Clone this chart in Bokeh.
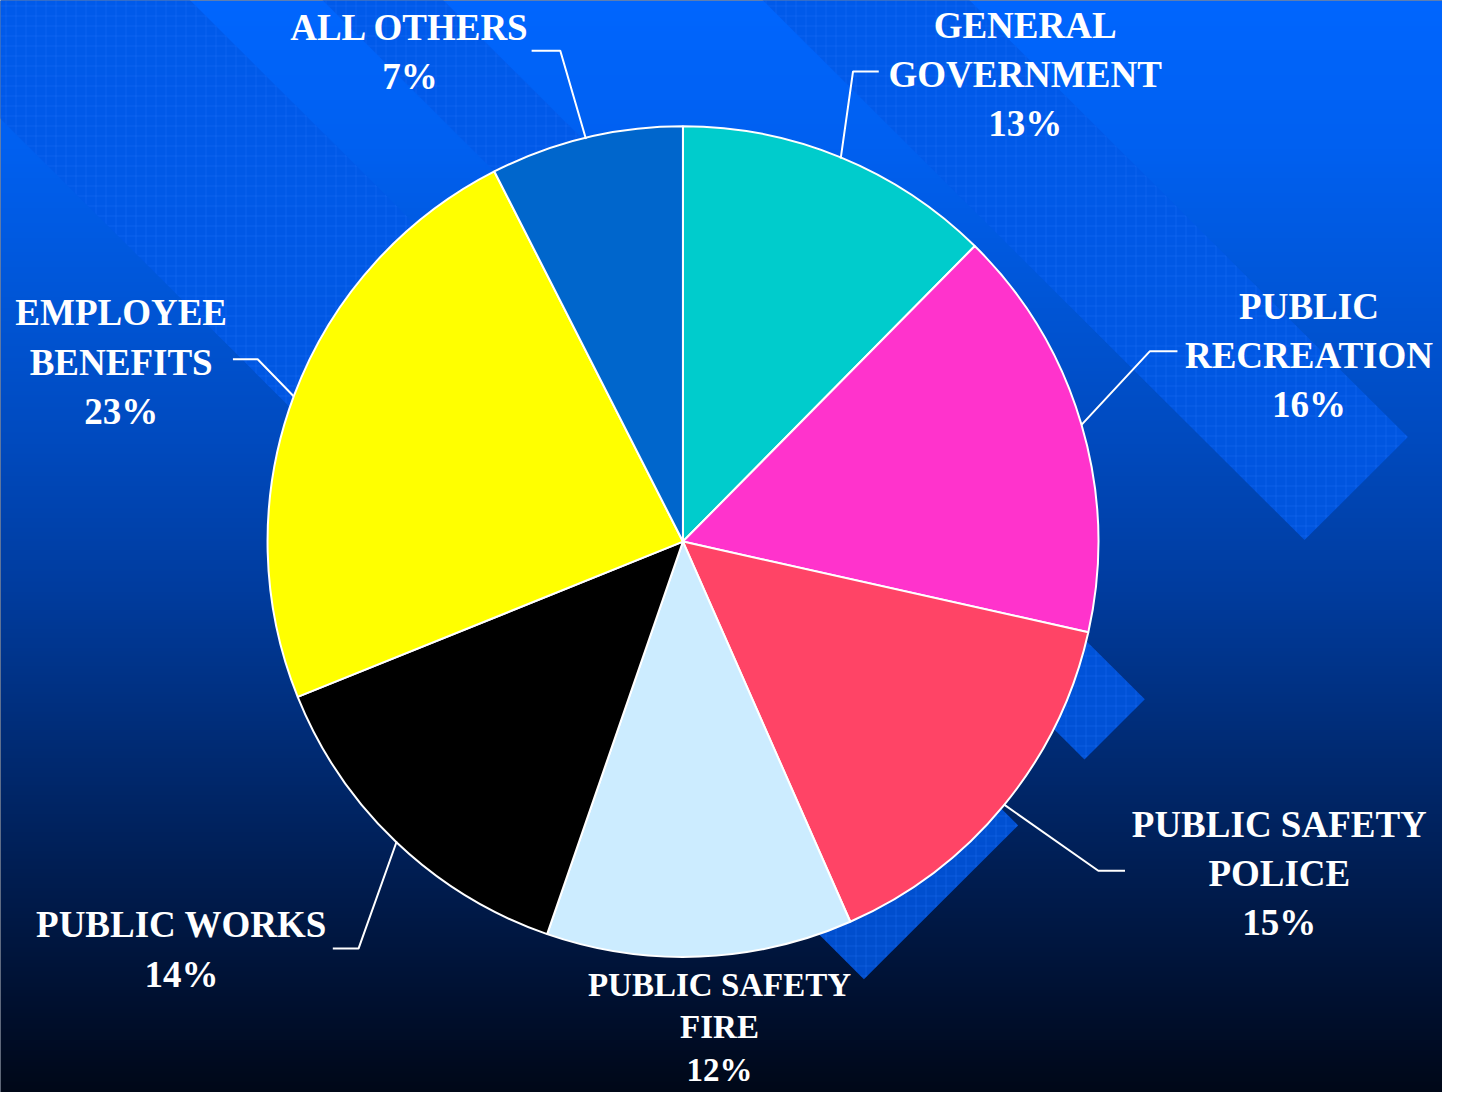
import numpy as np
from bokeh.plotting import figure
from bokeh.models import Range1d, ColumnDataSource
from bokeh.core.properties import value
from bokeh.embed import file_html
from bokeh.resources import INLINE

# ---------------- data ----------------
categories = ["GENERAL GOVERNMENT", "PUBLIC RECREATION", "PUBLIC SAFETY POLICE",
              "PUBLIC SAFETY FIRE", "PUBLIC WORKS", "EMPLOYEE BENEFITS", "ALL OTHERS"]
label_names = [["GENERAL", "GOVERNMENT"], ["PUBLIC", "RECREATION"], ["PUBLIC SAFETY", "POLICE"],
               ["PUBLIC SAFETY", "FIRE"], ["PUBLIC WORKS"], ["EMPLOYEE", "BENEFITS"], ["ALL OTHERS"]]
pct_labels = ["13%", "16%", "15%", "12%", "14%", "23%", "7%"]
shares = [12.4, 16.1, 14.9, 11.9, 13.6, 23.6, 7.5]   # slice sizes
colors = ["#00CCCC", "#FF33CC", "#FF4466", "#CCECFF", "#000000", "#FFFF00", "#0066CC"]

# ---------------- layout (reference pixel space, y downward) ----------------
W, H = 1458, 1108
CX, CY, R = 690, 549, 420
# label: centre x, first-line y, line spacing, font px
label_layout = [(1036, 25, 50, 37), (1323, 310, 50, 37), (1293, 836, 50, 37),
                (727, 999, 43, 33), (183, 938, 50, 37), (122, 317, 50, 37), (414, 27, 50, 37)]
# leader: elbow, end (None = no leader)
leaders = [((862, 72), (888, 72)), ((1162, 356), (1190, 356)), ((1110, 883), (1137, 883)),
           None, ((362, 962), (336, 962)), ((260, 364), (235, 364)), ((566, 51), (537, 51))]
# decorative diagonal bands: x-y between c1 and c2, ending at x+y = S
bands = [(-120, 192), (326, 448), (771, 980)]
S_END = 1866

def Y(py):
    return H - py

p = figure(width=1442, height=1092, x_range=Range1d(0, W), y_range=Range1d(0, H),
           output_backend="svg", toolbar_location=None, min_border=0)
p.axis.visible = False
p.grid.visible = False
p.outline_line_color = None
p.background_fill_color = "#001030"
p.border_fill_color = "#001030"

# gradient background
stops_py = [0, 150, 300, 450, 600, 750, 900, 1000, 1108]
stops_r = [0, 0, 0, 0, 0, 0, 0, 0, 0]
stops_g = [102, 96, 86, 74, 60, 44, 28, 18, 8]
stops_b = [255, 240, 215, 190, 158, 118, 78, 52, 24]
img = np.empty((H, 1), dtype=np.uint32)
view = img.view(dtype=np.uint8).reshape((H, 1, 4))
rows = np.arange(H)
py = H - 1 - rows
view[:, 0, 0] = np.interp(py, stops_py, stops_r).astype(np.uint8)
view[:, 0, 1] = np.interp(py, stops_py, stops_g).astype(np.uint8)
view[:, 0, 2] = np.interp(py, stops_py, stops_b).astype(np.uint8)
view[:, 0, 3] = 255
p.image_rgba(image=[img], x=0, y=0, dw=W, dh=H)

# bands
T = -600
bxs, bys = [], []
for c1, c2 in bands:
    pts = [((S_END + c1) / 2, (S_END - c1) / 2), ((S_END + c2) / 2, (S_END - c2) / 2),
           ((T + c2) / 2, (T - c2) / 2), ((T + c1) / 2, (T - c1) / 2)]
    bxs.append([q[0] for q in pts])
    bys.append([Y(q[1]) for q in pts])
p.patches(bxs, bys, fill_color="#0058E6", fill_alpha=0.85, line_color=None,
          hatch_pattern="+", hatch_color="#2A7BFF", hatch_alpha=0.28, hatch_scale=10, hatch_weight=1)

# pie
tot = sum(shares)
cum = np.cumsum([0] + shares) / tot
start = [np.pi / 2 - 2 * np.pi * cum[i] for i in range(len(shares))]
end = [np.pi / 2 - 2 * np.pi * cum[i + 1] for i in range(len(shares))]
src = ColumnDataSource(dict(cat=categories, start=start, end=end, color=colors))
p.wedge(x=CX, y=Y(CY), radius=R, start_angle="start", end_angle="end", direction="clock",
        fill_color="color", line_color="white", line_width=2, source=src)

# leaders
for i, ld in enumerate(leaders):
    if ld is None:
        continue
    mid = 2 * np.pi * (cum[i] + cum[i + 1]) / 2
    rx, ry = CX + R * np.sin(mid), CY - R * np.cos(mid)
    (ex, ey), (fx, fy) = ld
    p.line([rx, ex, fx], [Y(ry), Y(ey), Y(fy)], line_color="white", line_width=2)

# labels
for i, (cx, y0, sp, fs) in enumerate(label_layout):
    lines = label_names[i] + [pct_labels[i]]
    p.text(x=[cx] * len(lines), y=[Y(y0 + k * sp) for k in range(len(lines))], text=lines,
           text_font=value("Liberation Serif"), text_font_style="bold",
           text_font_size=f"{fs}px", text_color="white",
           text_align="center", text_baseline="middle")

open("out.html", "w").write(file_html(p, INLINE))
